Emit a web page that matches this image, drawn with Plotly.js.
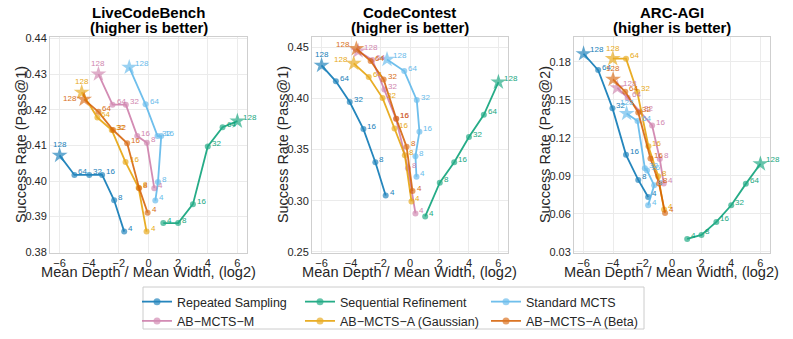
<!DOCTYPE html>
<html>
<head>
<meta charset="utf-8">
<script src="https://cdn.plot.ly/plotly-3.0.1.min.js"></script>
<style>
  html, body { margin: 0; padding: 0; background: #fff; }
  #chart { width: 793px; height: 339px; }
</style>
</head>
<body>
<div id="chart"></div>
<script>
// budgets for every point, 4 -> 128 (128 drawn as a star)
var budgets = [4, 8, 16, 32, 64, 128];
var seriesNames = ["Repeated Sampling", "Sequential Refinement", "Standard MCTS",
                   "AB\u2212MCTS\u2212M", "AB\u2212MCTS\u2212A (Gaussian)", "AB\u2212MCTS\u2212A (Beta)"];
var panelTitles = ["LiveCodeBench", "CodeContest", "ARC-AGI"];
var yTitles = ["Success Rate (Pass@1)", "Success Rate (Pass@1)", "Success Rate (Pass@2)"];

// LiveCodeBench
var lcbRepeatedX = [-1.64, -2.32, -3.13, -4.0, -5.0, -6.0];
var lcbRepeatedY = [0.3858, 0.3946, 0.4017, 0.4017, 0.4017, 0.4072];
var lcbSequentialX = [1.0, 2.0, 3.0, 4.0, 5.0, 6.0];
var lcbSequentialY = [0.3882, 0.3882, 0.3935, 0.4097, 0.4151, 0.4168];
var lcbStandardX = [0.46, 0.64, 0.86, 0.61, -0.2, -1.3];
var lcbStandardY = [0.3945, 0.3997, 0.4126, 0.4126, 0.4215, 0.4319];
var lcbMX = [0.39, -0.11, -0.76, -1.53, -2.43, -3.38];
var lcbMY = [0.3980, 0.4107, 0.4126, 0.4214, 0.4214, 0.4300];
var lcbGaussX = [-0.13, -0.67, -1.55, -2.48, -3.45, -4.51];
var lcbGaussY = [0.3858, 0.3981, 0.4053, 0.4143, 0.4178, 0.4249];
var lcbBetaX = [-0.06, -0.63, -1.44, -2.39, -3.38, -4.35];
var lcbBetaY = [0.3911, 0.3980, 0.4106, 0.4143, 0.4194, 0.4229];

// CodeContest
var ccRepeatedX = [-1.65, -2.35, -3.16, -4.09, -5.03, -6.0];
var ccRepeatedY = [0.3052, 0.3376, 0.3699, 0.3963, 0.4165, 0.4321];
var ccSequentialX = [1.03, 2.02, 3.0, 4.0, 5.01, 6.0];
var ccSequentialY = [0.2847, 0.3176, 0.3375, 0.3622, 0.3839, 0.4158];
var ccStandardX = [0.44, 0.37, 0.64, 0.46, -0.39, -1.56];
var ccStandardY = [0.3234, 0.3435, 0.3673, 0.3982, 0.4265, 0.4379];
var ccMX = [0.37, -0.14, -0.95, -1.74, -2.55, -3.52];
var ccMY = [0.2876, 0.3318, 0.3800, 0.4086, 0.4373, 0.4461];
var ccGaussX = [0.1, -0.35, -1.05, -1.86, -2.8, -3.82];
var ccGaussY = [0.2993, 0.3445, 0.3705, 0.4002, 0.4207, 0.4340];
var ccBetaX = [0.17, -0.23, -0.93, -1.79, -2.67, -3.64];
var ccBetaY = [0.3094, 0.3526, 0.3800, 0.4184, 0.4363, 0.4484];

// ARC-AGI
var arcRepeatedX = [-1.62, -2.29, -3.12, -4.04, -5.01, -6.0];
var arcRepeatedY = [0.0734, 0.0868, 0.1066, 0.1434, 0.1734, 0.1863];
var arcSequentialX = [1.03, 2.0, 3.01, 4.02, 5.01, 6.0];
var arcSequentialY = [0.0403, 0.0434, 0.0537, 0.0668, 0.0837, 0.0995];
var arcStandardX = [-1.62, -1.21, -1.69, -1.84, -2.34, -3.08];
var arcStandardY = [0.0668, 0.0826, 0.0942, 0.0960, 0.1332, 0.1392];
var arcMX = [-0.56, -0.83, -1.35, -2.18, -3.01, -3.71];
var arcMY = [0.0840, 0.1034, 0.1297, 0.1408, 0.1516, 0.1595];
var arcGaussX = [-0.54, -0.94, -1.6, -2.36, -3.12, -4.02];
var arcGaussY = [0.0634, 0.0897, 0.1134, 0.1563, 0.1824, 0.1824];
var arcBetaX = [-0.47, -0.88, -1.46, -2.29, -3.17, -4.0];
var arcBetaY = [0.0608, 0.0840, 0.1037, 0.1400, 0.1563, 0.1661];

var yTickVals = [
  [0.38, 0.39, 0.40, 0.41, 0.42, 0.43, 0.44],
  [0.25, 0.30, 0.35, 0.40, 0.45],
  [0.03, 0.06, 0.09, 0.12, 0.15, 0.18]
];
var xTickVals = [-6, -4, -2, 0, 2, 4, 6];

var panels = [
  [[lcbRepeatedX, lcbRepeatedY], [lcbSequentialX, lcbSequentialY], [lcbStandardX, lcbStandardY],
   [lcbMX, lcbMY], [lcbGaussX, lcbGaussY], [lcbBetaX, lcbBetaY]],
  [[ccRepeatedX, ccRepeatedY], [ccSequentialX, ccSequentialY], [ccStandardX, ccStandardY],
   [ccMX, ccMY], [ccGaussX, ccGaussY], [ccBetaX, ccBetaY]],
  [[arcRepeatedX, arcRepeatedY], [arcSequentialX, arcSequentialY], [arcStandardX, arcStandardY],
   [arcMX, arcMY], [arcGaussX, arcGaussY], [arcBetaX, arcBetaY]]
];

// styling
var colors = ["#0072B2", "#009E73", "#56B4E9", "#CC79A7", "#E69F00", "#D55E00"];
var legendIds = ["legend", "legend2", "legend3", "legend", "legend2", "legend3"];
// where the "128" label sits next to the star
var starLabelPos = [
  ["up", "ur", "ur", "up", "up", "l"],
  ["up", "ur", "ur", "ur", "ul", "ul"],
  ["ur", "ur", "up", "ur", "up", "up"]
];
var yRanges = [[0.3798, 0.4404], [0.249, 0.4598], [0.0292, 0.1995]];
var xDomains = [[50 / 793, 247 / 793], [312 / 793, 508 / 793], [574 / 793, 770 / 793]];
var yDomain = [1 - 253 / 339, 1 - 37 / 339];
var FONT = "Liberation Sans, Arial, sans-serif";

var data = [];
var annotations = [];
var layout = {
  width: 793, height: 339,
  margin: {l: 0, r: 0, t: 0, b: 0},
  paper_bgcolor: "#fff", plot_bgcolor: "#fff",
  font: {family: FONT, color: "#262626"},
  showlegend: true,
  shapes: [{
    type: "rect", xref: "paper", yref: "paper",
    x0: 143 / 793, x1: 644 / 793, y0: 1 - 329 / 339, y1: 1 - 287 / 339,
    line: {color: "#cccccc", width: 1}, fillcolor: "rgba(0,0,0,0)"
  }]
};

var legendX = [137, 300, 486];
["legend", "legend2", "legend3"].forEach(function(id, k) {
  layout[id] = {
    x: legendX[k] / 793, y: 1 - 287 / 339, xanchor: "left", yanchor: "top",
    orientation: "v", bgcolor: "rgba(0,0,0,0)", borderwidth: 0,
    font: {family: FONT, size: 12.5, color: "#262626"},
    tracegroupgap: 0, itemwidth: 30
  };
});

panels.forEach(function(series, p) {
  var sfx = p === 0 ? "" : String(p + 1);
  var xa = "x" + sfx, ya = "y" + sfx;
  layout["xaxis" + sfx] = {
    domain: xDomains[p], anchor: ya, range: [-6.65, 6.65],
    tickvals: xTickVals, ticks: "", showgrid: true, gridcolor: "#ebebeb",
    zeroline: false, showline: true, mirror: true, linecolor: "#cfcfcf", linewidth: 1,
    tickfont: {size: 11, color: "#262626"}
  };
  layout["yaxis" + sfx] = {
    domain: yDomain, anchor: xa, range: yRanges[p],
    tickvals: yTickVals[p], tickformat: ".2f", ticks: "", showgrid: true, gridcolor: "#ebebeb",
    zeroline: false, showline: true, mirror: true, linecolor: "#cfcfcf", linewidth: 1,
    tickfont: {size: 11, color: "#262626"}
  };

  var cx = (xDomains[p][0] + xDomains[p][1]) / 2;
  annotations.push({xref: "paper", yref: "paper", x: cx, y: 1 - 12 / 339, text: "<b>" + panelTitles[p] + "</b>",
    showarrow: false, font: {size: 15, color: "#000"}, xanchor: "center", yanchor: "middle"});
  annotations.push({xref: "paper", yref: "paper", x: cx, y: 1 - 27 / 339, text: "<b>(higher is better)</b>",
    showarrow: false, font: {size: 15, color: "#000"}, xanchor: "center", yanchor: "middle"});
  annotations.push({xref: "paper", yref: "paper", x: cx, y: 1 - 272 / 339, text: "Mean Depth / Mean Width, (log2)",
    showarrow: false, font: {size: 14.6, color: "#262626"}, xanchor: "center", yanchor: "middle"});
  annotations.push({xref: "paper", yref: "paper", x: (xDomains[p][0] * 793 - 29) / 793, y: (yDomain[0] + yDomain[1]) / 2,
    text: yTitles[p], textangle: -90, showarrow: false, font: {size: 14.4, color: "#262626"},
    xanchor: "center", yanchor: "middle"});

  series.forEach(function(s, i) {
    data.push({
      x: s[0], y: s[1], xaxis: xa, yaxis: ya,
      type: "scatter", mode: "lines+markers",
      name: seriesNames[i], legend: legendIds[i], showlegend: p === 0,
      opacity: 0.85,
      line: {color: colors[i], width: 1.8},
      marker: {
        color: colors[i],
        symbol: budgets.map(function(b) { return b === 128 ? "star" : "circle"; }),
        size: budgets.map(function(b) { return b === 128 ? 12 : 6; }),
        line: {width: 0}
      },
      hoverinfo: "skip"
    });
    budgets.forEach(function(b, j) {
      var a = {
        x: s[0][j], y: s[1][j], xref: xa, yref: ya, text: String(b), showarrow: false,
        font: {size: 8, color: colors[i]}, opacity: 0.9,
        xanchor: "left", yanchor: "middle", xshift: 2, yshift: 3
      };
      if (b === 128) {
        var pos = starLabelPos[p][i];
        if (pos === "up") { a.xanchor = "center"; a.yanchor = "bottom"; a.xshift = 0; a.yshift = 4; }
        else if (pos === "ur") { a.xshift = 4; a.yshift = 4; }
        else if (pos === "ul") { a.xanchor = "right"; a.xshift = -4; a.yshift = 4; }
        else if (pos === "l") { a.xanchor = "right"; a.xshift = -5; a.yshift = 1; }
      }
      annotations.push(a);
    });
  });
});

layout.annotations = annotations;
Plotly.newPlot("chart", data, layout, {staticPlot: true, displayModeBar: false});
</script>
</body>
</html>
